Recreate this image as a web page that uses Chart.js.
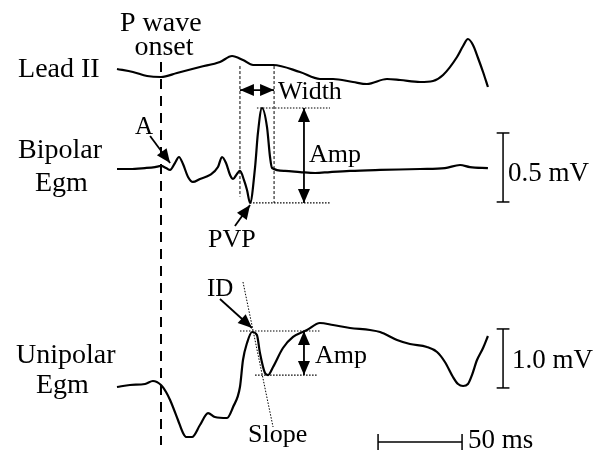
<!DOCTYPE html>
<html>
<head>
<meta charset="utf-8">
<script src="https://cdn.jsdelivr.net/npm/chart.js@4/dist/chart.umd.min.js"></script>
<style>
  html, body { margin: 0; background: #fff; }
  canvas { display: block; }
</style>
</head>
<body>
<canvas id="grafico" width="604" height="452"></canvas>
<script>
// time in ms from P wave onset, voltage in mV
const leadT = [-26.2, -16.7, -8.3, 0, 9.5, 23.2, 35.1, 42.3, 48.8, 54.8, 66.7, 82.7, 94.6, 102.4, 114.3, 122.6, 134.5, 142.3, 154.2, 161.9, 167.9, 176.2, 179.8, 182.7, 185.7, 188.7, 191.7, 194.6];
const leadV = [0.08, 0.05, 0.01, 0, 0.04, 0.10, 0.15, 0.21, 0.17, 0.12, 0.12, 0.05, -0.02, -0.02, -0.05, -0.07, -0.02, -0.03, -0.05, -0.04, 0.02, 0.20, 0.31, 0.38, 0.32, 0.19, 0.05, -0.10];

const bipT = [-26.2, -18.5, -9.5, -3.6, 0, 3.0, 5.4, 8.3, 10.7, 13.1, 16.1, 19.0, 23.2, 29.2, 33.9, 36.3, 38.7, 41.1, 42.9, 45.2, 47.0, 49.4, 51.2, 53.0, 56.0, 57.7, 60.1, 63.1, 64.9, 66.1, 73.8, 82.7, 91.7, 100.6, 112.5, 130.4, 154.2, 169.0, 178.0, 183.9, 194.6];
const bipV = [0, 0, 0.007, 0.014, 0.022, 0.007, -0.007, 0.043, 0.087, 0.036, -0.058, -0.094, -0.072, -0.043, 0.014, 0.087, 0.043, -0.043, -0.072, -0.036, -0.014, -0.08, -0.152, -0.246, 0.014, 0.261, 0.442, 0.304, 0.087, 0.007, -0.014, -0.022, -0.029, -0.022, -0.014, -0.007, 0, 0.007, 0.029, 0.014, 0.007];

const uniT = [-26.2, -18.5, -9.5, -4.8, 0, 3.0, 5.4, 10.1, 13.1, 14.9, 18.5, 23.2, 28.0, 32.1, 39.3, 42.9, 47.0, 48.8, 51.2, 54.2, 57.1, 58.9, 61.9, 63.7, 66.7, 72.6, 78.6, 86.9, 94.6, 102.4, 112.5, 124.4, 130.4, 140.5, 148.2, 158.3, 164.3, 169.0, 173.8, 176.8, 179.8, 182.7, 185.1, 188.1, 191.7, 194.6];
const uniV = [-0.034, 0, 0.017, 0.068, 0, -0.119, -0.254, -0.593, -0.814, -0.881, -0.881, -0.678, -0.475, -0.542, -0.559, -0.373, -0.034, 0.424, 0.712, 0.898, 0.847, 0.542, 0.203, 0.169, 0.305, 0.627, 0.814, 0.932, 1.051, 1.017, 0.966, 0.932, 0.898, 0.763, 0.695, 0.644, 0.559, 0.390, 0.136, 0.017, -0.017, 0.017, 0.169, 0.424, 0.627, 0.831];

// measured markers
const pvpT = 53.0, pvpPeakT = 60.1, widthEndT = 67.3;
const pvpV = -0.246, pvpPeakV = 0.442;
const idT = 54.2, idV = 0.915, uniMinV = 0.169;
const bipBar = 0.5, uniBar = 1.0, timeBar = 50;

// ===============================
// layout
// ===============================
const W = 604, H = 452;
const PX_MS = 84 / 50;
const ONSET_PX = 161;
// baseline (px) and gain (px per mV) of each row
const filas = { yL: [77, 100], yB: [169, 138], yU: [385, 59] };
const SERIF = "'Liberation Serif', 'Times New Roman', serif";

function pts(t, v) {
  return t.map((x, i) => ({ x, y: v[i] }));
}

function ejeY(id) {
  const [base, gain] = filas[id];
  return { type: "linear", display: false, min: -(H - base) / gain, max: base / gain };
}

function linea(data, yAxisID, width, dash) {
  return {
    data, yAxisID, showLine: true, pointRadius: 0, tension: 0,
    borderColor: "#000", borderWidth: width, borderDash: dash || []
  };
}

function traza(t, v, yAxisID) {
  const d = linea(pts(t, v), yAxisID, 2.2);
  d.cubicInterpolationMode = "monotone";
  return d;
}

const punteo = [1.5, 1.5];
const barT = 203.6;

const datasets = [
  traza(leadT, leadV, "yL"),
  traza(bipT, bipV, "yB"),
  traza(uniT, uniV, "yU"),
  // P wave onset
  linea([{ x: 0, y: 0.15 }, { x: 0, y: -3.68 }], "yL", 2, [10, 7]),
  // width markers
  linea([{ x: 47.0, y: 0.746 }, { x: 47.0, y: -0.20 }], "yB", 1, [3, 2]),
  linea([{ x: widthEndT, y: 0.746 }, { x: widthEndT, y: pvpV }], "yB", 1, [3, 2]),
  linea([{ x: pvpPeakT - 3, y: pvpPeakV }, { x: 100.6, y: pvpPeakV }], "yB", 1.2, punteo),
  linea([{ x: pvpT, y: pvpV }, { x: 100.6, y: pvpV }], "yB", 1.2, punteo),
  // unipolar markers
  linea([{ x: 47.0, y: idV }, { x: 94.6, y: idV }], "yU", 1.2, punteo),
  linea([{ x: 56.0, y: uniMinV }, { x: 93.5, y: uniMinV }], "yU", 1.2, punteo),
  linea([{ x: 48.8, y: 1.746 }, { x: 66.7, y: -0.712 }], "yU", 1, punteo),
  // calibration bars
  linea([{ x: barT, y: 0.261 }, { x: barT, y: 0.261 - bipBar }], "yB", 1.5),
  linea([{ x: barT - 3.8, y: 0.261 }, { x: barT + 3.8, y: 0.261 }], "yB", 1.5),
  linea([{ x: barT - 3.8, y: 0.261 - bipBar }, { x: barT + 3.8, y: 0.261 - bipBar }], "yB", 1.5),
  linea([{ x: barT, y: 0.95 }, { x: barT, y: 0.95 - uniBar }], "yU", 1.5),
  linea([{ x: barT - 3.8, y: 0.95 }, { x: barT + 3.8, y: 0.95 }], "yU", 1.5),
  linea([{ x: barT - 3.8, y: 0.95 - uniBar }, { x: barT + 3.8, y: 0.95 - uniBar }], "yU", 1.5),
  linea([{ x: 129.2, y: -0.966 }, { x: 129.2 + timeBar, y: -0.966 }], "yU", 1.5),
  linea([{ x: 129.2, y: -0.83 }, { x: 129.2, y: -1.10 }], "yU", 1.5),
  linea([{ x: 129.2 + timeBar, y: -0.83 }, { x: 129.2 + timeBar, y: -1.10 }], "yU", 1.5)
];

// arrows: [axis, t0, v0, t1, v1, heads]
const flechas = [
  ["yB", -6.5, 0.239, 5.4, 0.043, 1],
  ["yB", 44.0, -0.413, pvpT, -0.261, 1],
  ["yB", 47.0, 0.572, widthEndT, 0.572, 2],
  ["yB", 85.1, pvpPeakV, 85.1, pvpV, 2],
  ["yU", 35.1, 1.458, idT, 0.966, 1],
  ["yU", 85.1, idV, 85.1, uniMinV, 2]
];

// texts: [text, t, v, axis, size]
const textos = [
  ["Lead II", -85.1, 0, "yL", 28],
  ["P wave", -24.4, 0.46, "yL", 28],
  ["onset", -15.8, 0.22, "yL", 28],
  ["Bipolar", -85.1, 0.080, "yB", 28],
  ["Egm", -75.0, -0.159, "yB", 28],
  ["A", -15.5, 0.254, "yB", 25],
  ["Width", 69.6, 0.507, "yB", 26],
  ["Amp", 88.1, 0.051, "yB", 26],
  ["PVP", 28.0, -0.565, "yB", 26],
  ["0.5 mV", 206.5, -0.087, "yB", 27],
  ["Unipolar", -86.3, 0.373, "yU", 28],
  ["Egm", -74.4, -0.136, "yU", 28],
  ["ID", 27.4, 1.508, "yU", 25],
  ["Amp", 91.7, 0.373, "yU", 26],
  ["Slope", 51.8, -0.966, "yU", 26],
  ["1.0 mV", 208.9, 0.288, "yU", 27],
  ["50 ms", 182.7, -1.068, "yU", 27]
];

function punta(ctx, x0, y0, x1, y1) {
  const a = Math.atan2(y1 - y0, x1 - x0);
  const len = 14, half = 6;
  ctx.beginPath();
  ctx.moveTo(x1, y1);
  ctx.lineTo(x1 - len * Math.cos(a) + half * Math.sin(a), y1 - len * Math.sin(a) - half * Math.cos(a));
  ctx.lineTo(x1 - len * Math.cos(a) - half * Math.sin(a), y1 - len * Math.sin(a) + half * Math.cos(a));
  ctx.closePath();
  ctx.fill();
}

const anotaciones = {
  id: "anotaciones",
  afterDatasetsDraw(chart) {
    const ctx = chart.ctx;
    const sx = chart.scales.x;
    ctx.save();
    ctx.strokeStyle = "#000";
    ctx.fillStyle = "#000";
    ctx.lineWidth = 1.8;
    flechas.forEach(([eje, t0, v0, t1, v1, heads]) => {
      const sy = chart.scales[eje];
      const x0 = sx.getPixelForValue(t0), y0 = sy.getPixelForValue(v0);
      const x1 = sx.getPixelForValue(t1), y1 = sy.getPixelForValue(v1);
      ctx.beginPath();
      ctx.moveTo(x0, y0);
      ctx.lineTo(x1, y1);
      ctx.stroke();
      punta(ctx, x0, y0, x1, y1);
      if (heads === 2) punta(ctx, x1, y1, x0, y0);
    });
    ctx.textBaseline = "alphabetic";
    ctx.textAlign = "left";
    textos.forEach(([txt, t, v, eje, size]) => {
      ctx.font = size + "px " + SERIF;
      ctx.fillText(txt, sx.getPixelForValue(t), chart.scales[eje].getPixelForValue(v));
    });
    ctx.restore();
  }
};

new Chart(document.getElementById("grafico"), {
  type: "scatter",
  data: { datasets },
  options: {
    responsive: false,
    animation: false,
    layout: { padding: 0 },
    plugins: { legend: { display: false }, tooltip: { enabled: false } },
    scales: {
      x: { type: "linear", display: false, min: -ONSET_PX / PX_MS, max: (W - ONSET_PX) / PX_MS },
      yL: ejeY("yL"),
      yB: ejeY("yB"),
      yU: ejeY("yU")
    }
  },
  plugins: [anotaciones]
});
</script>
</body>
</html>
